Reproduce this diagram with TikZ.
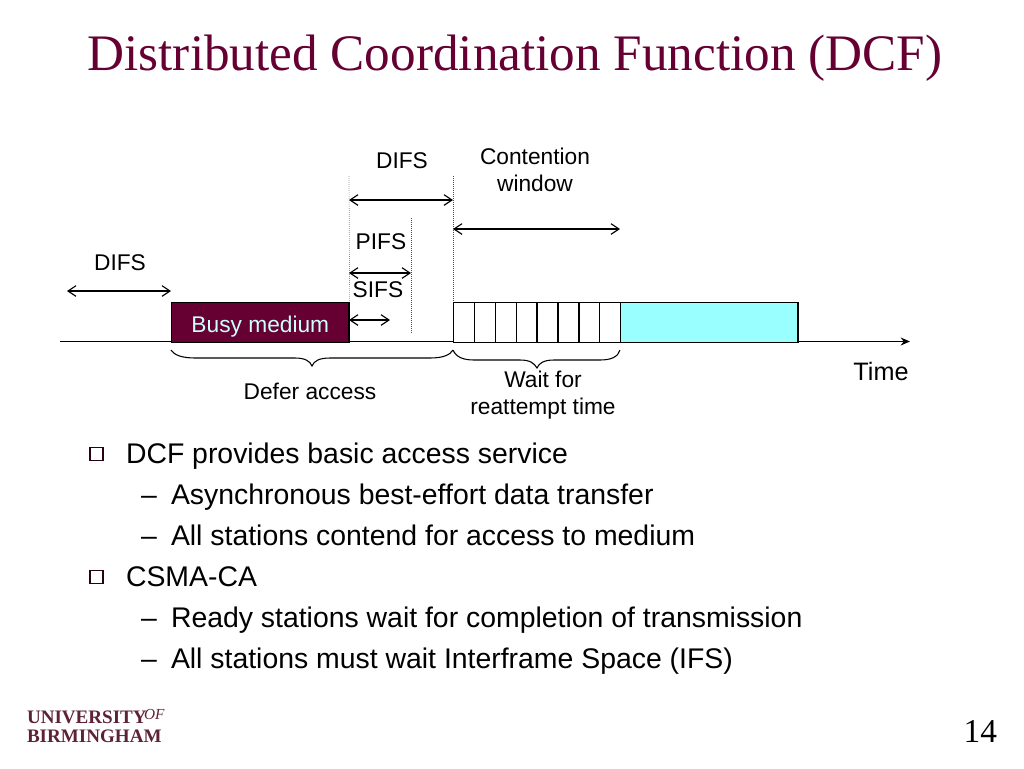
\documentclass[tikz,border=0pt]{standalone}
\usepackage{fontspec}
\setmainfont{Liberation Sans}
\newfontfamily\serifface{Liberation Serif}
\usetikzlibrary{arrows.meta}
\definecolor{maroon}{HTML}{660033}
\definecolor{cyanfill}{HTML}{99FFFF}
\definecolor{busytext}{HTML}{CCFFFF}
\definecolor{logocol}{HTML}{5E2238}
\tikzset{
  x=0.75pt,y=-0.75pt,
  txt/.style={inner sep=0pt,outer sep=0pt,text=black},
  lab/.style={txt,anchor=base,font=\fontsize{17.05}{20}\selectfont,align=center},
  bodyone/.style={txt,anchor=base west,font=\fontsize{21.3}{24}\selectfont},
  bodytwo/.style={txt,anchor=base west,font=\fontsize{21.3}{24}\selectfont},
  span/.style={draw=black,line width=0.85pt,{Straight Barb[length=6pt,width=8pt]}-{Straight Barb[length=6pt,width=8pt]}},
  guide/.style={draw=black!70,line width=0.5pt,densely dotted},
  cellbox/.style={draw=black,line width=1pt,fill=white,minimum height=30pt,minimum width=15.65pt,inner sep=0pt,anchor=north west},
  bracepath/.style={draw=black,line width=0.8pt},
  bullet/.style={draw=black!60!maroon,line width=1.3pt,fill=white,minimum size=9.8pt,inner sep=0pt}
}
\begin{document}
\begin{tikzpicture}
\useasboundingbox (0,0) rectangle (1024,768);
\node[txt,anchor=base,text=maroon,font=\serifface\fontsize{38.4}{44}\selectfont] (title) at (515,70) {Distributed Coordination Function (DCF)};

% time axis
\coordinate (axisL) at (60,341.5);
\coordinate (axisR) at (910,341.5);
\draw[draw=black,line width=1pt,-{Stealth[length=7pt,width=6pt]}] (axisL) -- (axisR);

% boxes
\node[draw=black,line width=1pt,fill=maroon,anchor=north west,minimum width=133pt,minimum height=30pt,inner sep=0pt,text=busytext,font=\fontsize{17.05}{20}\selectfont] (busy) at (171,302) {\smash{\raisebox{-7.4pt}{Busy medium}}};
\node[cellbox] (c1) at (453,302) {};
\node[cellbox] (c2) at (473.9,302) {};
\node[cellbox] (c3) at (494.8,302) {};
\node[cellbox] (c4) at (515.6,302) {};
\node[cellbox] (c5) at (536.5,302) {};
\node[cellbox] (c6) at (557.4,302) {};
\node[cellbox] (c7) at (578.3,302) {};
\node[cellbox] (c8) at (599.1,302) {};
\node[draw=black,line width=1pt,fill=cyanfill,anchor=north west,minimum width=133pt,minimum height=30pt,inner sep=0pt] (send) at (620,302) {};

% dotted guides
\coordinate (g1t) at (349,176);
\coordinate (g2t) at (453,176);
\coordinate (g3t) at (411,218);
\coordinate (g3b) at (411,333);
\draw[guide] (g1t) -- (busy.north east);
\draw[guide] (g2t) -- (c1.north west);
\draw[guide] (g3t) -- (g3b);

% spans
\coordinate (a1l) at (349,200); \coordinate (a1r) at (453,200);
\coordinate (a2l) at (453,229); \coordinate (a2r) at (620,229);
\coordinate (a3l) at (349,273); \coordinate (a3r) at (411,273);
\coordinate (a4l) at (349,320); \coordinate (a4r) at (390,320);
\coordinate (a5l) at (67,291);  \coordinate (a5r) at (171,291);
\draw[span] (a1l) -- (a1r);
\draw[span] (a2l) -- (a2r);
\draw[span] (a3l) -- (a3r);
\draw[span] (a4l) -- (a4r);
\draw[span] (a5l) -- (a5r);

% braces
\coordinate (b1s) at (171,350); \coordinate (b1t) at (312,366); \coordinate (b1e) at (453,350);
\draw[bracepath] (b1s) .. controls (174,355) and (182,358) .. (195,358) -- (295,358)
  .. controls (305,358) and (310,361) .. (b1t) .. controls (314,361) and (319,358) .. (330,358)
  -- (430,358) .. controls (443,358) and (450,355) .. (b1e);
\coordinate (b2s) at (453,350); \coordinate (b2t) at (537,368); \coordinate (b2e) at (620,350);
\draw[bracepath] (b2s) .. controls (456,357) and (463,360) .. (474,360) -- (520,360)
  .. controls (530,360) and (534,363) .. (b2t) .. controls (539,363) and (544,360) .. (554,360)
  -- (600,360) .. controls (611,360) and (618,357) .. (b2e);

% labels
\node[lab] (difsT) at (402,168) {DIFS};
\node[lab] (cw1) at (535,164) {Contention};
\node[lab] (cw2) at (535,191) {window};
\node[lab] (pifs) at (381,249) {PIFS};
\node[lab] (sifs) at (378,297) {SIFS};
\node[lab] (difsL) at (120,270) {DIFS};
\node[lab] (defer) at (310,399) {Defer access};
\node[lab] (wait1) at (543,387) {Wait for};
\node[lab] (wait2) at (543,414) {reattempt time};
\node[lab,font=\fontsize{18.9}{22}\selectfont] (time) at (881,380) {Time};

% bullet list
\node[bullet] (bl1) at (96.5,454) {};
\node[bodyone] (l1) at (126,463) {DCF provides basic access service};
\node[bodytwo] (d2) at (141,504) {–};
\node[bodytwo] (l2) at (171,504) {Asynchronous best-effort data transfer};
\node[bodytwo] (d3) at (141,545) {–};
\node[bodytwo] (l3) at (171,545) {All stations contend for access to medium};
\node[bullet] (bl4) at (96.5,577) {};
\node[bodyone] (l4) at (126,586) {CSMA-CA};
\node[bodytwo] (d5) at (141,627) {–};
\node[bodytwo] (l5) at (171,627) {Ready stations wait for completion of transmission};
\node[bodytwo] (d6) at (141,668) {–};
\node[bodytwo] (l6) at (171,668) {All stations must wait Interframe Space (IFS)};

% logo
\node[txt,anchor=base west,text=logocol,font=\serifface\bfseries\fontsize{14.3}{15}\selectfont] (logoU) at (27,723) {UNIVERSITY};
\node[txt,anchor=base west,text=logocol,font=\serifface\itshape\fontsize{11.5}{12}\selectfont] (logoO) at (144,719) {OF};
\node[txt,anchor=base west,text=logocol,font=\serifface\bfseries\fontsize{14.3}{15}\selectfont] (logoB) at (27,742) {BIRMINGHAM};

% page number
\node[txt,anchor=base east,font=\serifface\fontsize{25}{28}\selectfont] (page) at (997,742) {14};
\end{tikzpicture}
\end{document}
